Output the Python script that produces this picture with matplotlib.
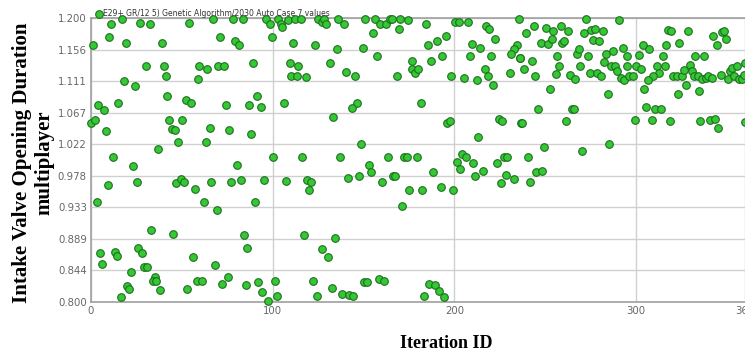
import numpy as np
import matplotlib
matplotlib.use("Agg")
import matplotlib.pyplot as plt

# (iteration, multiplier), left to right in strips
strip_1 = [(11.2, 1.192), (17.3, 1.199), (27.2, 1.193), (32.3, 1.192), (54.0, 1.193), (1.1, 1.162),
           (10.1, 1.173), (19.3, 1.165), (39.1, 1.165), (30.1, 1.133), (40.0, 1.133), (41.3, 1.118),
           (59.5, 1.133), (18.2, 1.111), (24.3, 1.104), (58.9, 1.114), (4.0, 1.078), (7.0, 1.071),
           (14.9, 1.080), (42.1, 1.090), (52.2, 1.084), (55.1, 1.080), (0.2, 1.052), (2.2, 1.057),
           (8.3, 1.041), (43.2, 1.057), (50.3, 1.057), (44.4, 1.043), (46.1, 1.042), (47.9, 1.025),
           (37.1, 1.015), (11.9, 1.004), (23.0, 0.992), (9.4, 0.965), (25.3, 0.969), (47.0, 0.968),
           (49.4, 0.973), (51.4, 0.969), (57.3, 0.959), (3.1, 0.941), (33.1, 0.901), (45.2, 0.896),
           (5.1, 0.869), (13.0, 0.870), (14.3, 0.865), (26.1, 0.876), (28.1, 0.869), (56.4, 0.864),
           (5.9, 0.853), (29.0, 0.849), (31.0, 0.850), (22.0, 0.842), (20.0, 0.823), (21.1, 0.819),
           (35.1, 0.835), (34.3, 0.829), (36.0, 0.829), (38.0, 0.817), (16.4, 0.807), (53.1, 0.819),
           (58.2, 0.829)]

strip_2 = [(67.4, 1.199), (78.1, 1.199), (83.6, 1.198), (96.2, 1.199), (98.4, 1.192), (103.2, 1.199),
           (104.7, 1.192), (105.4, 1.188), (108.4, 1.197), (112.2, 1.199), (115.5, 1.199), (71.1, 1.173),
           (79.3, 1.167), (81.2, 1.162), (99.4, 1.173), (111.1, 1.165), (64.1, 1.128), (70.0, 1.133),
           (73.3, 1.133), (89.1, 1.137), (109.3, 1.137), (114.2, 1.133), (110.2, 1.118), (113.3, 1.118),
           (118.3, 1.117), (91.3, 1.090), (74.4, 1.077), (87.1, 1.077), (93.5, 1.074), (106.0, 1.080),
           (65.4, 1.045), (76.2, 1.042), (88.2, 1.037), (63.2, 1.025), (100.3, 1.004), (116.4, 1.004),
           (80.1, 0.993), (66.3, 0.969), (77.3, 0.969), (82.5, 0.972), (95.3, 0.972), (107.3, 0.971),
           (62.3, 0.941), (69.2, 0.929), (90.5, 0.941), (84.3, 0.894), (86.1, 0.876), (117.2, 0.895),
           (68.1, 0.852), (61.0, 0.829), (72.2, 0.825), (75.3, 0.835), (85.2, 0.824), (92.2, 0.828),
           (94.0, 0.814), (97.2, 0.802), (101.2, 0.829), (102.3, 0.808)]

strip_3 = [(125.1, 1.199), (126.9, 1.195), (128.2, 1.199), (129.1, 1.192), (136.1, 1.199), (139.2, 1.192),
           (151.1, 1.199), (156.3, 1.199), (159.2, 1.192), (162.2, 1.192), (164.6, 1.199), (165.5, 1.199),
           (170.2, 1.199), (174.5, 1.197), (155.2, 1.179), (169.3, 1.185), (123.4, 1.162), (135.2, 1.156),
           (149.5, 1.158), (157.6, 1.146), (131.5, 1.137), (140.3, 1.124), (145.1, 1.118), (168.2, 1.118),
           (176.9, 1.139), (176.5, 1.128), (146.2, 1.080), (143.4, 1.073), (133.3, 1.060), (148.6, 1.022),
           (137.2, 1.004), (163.3, 1.004), (172.3, 1.004), (173.7, 1.004), (153.3, 0.993), (154.3, 0.983),
           (119.0, 0.972), (121.2, 0.969), (120.1, 0.958), (141.4, 0.974), (147.3, 0.977), (160.3, 0.969),
           (166.0, 0.977), (167.3, 0.977), (175.2, 0.958), (171.0, 0.935), (134.3, 0.890), (127.3, 0.875),
           (130.2, 0.864), (122.1, 0.829), (124.3, 0.808), (132.4, 0.820), (138.1, 0.811), (142.2, 0.810),
           (144.4, 0.808), (150.4, 0.828), (152.2, 0.828), (158.3, 0.832), (161.2, 0.829)]

strip_4 = [(184.2, 1.192), (200.4, 1.195), (202.4, 1.195), (207.5, 1.194), (217.4, 1.189), (219.3, 1.184),
           (235.4, 1.199), (195.4, 1.175), (190.6, 1.168), (185.5, 1.162), (209.5, 1.163), (214.3, 1.158),
           (222.6, 1.170), (234.3, 1.162), (232.9, 1.156), (231.4, 1.149), (236.2, 1.143), (193.4, 1.146),
           (208.4, 1.146), (220.4, 1.146), (187.3, 1.139), (178.3, 1.122), (180.2, 1.128), (216.7, 1.128),
           (218.5, 1.119), (230.5, 1.123), (198.3, 1.118), (205.3, 1.115), (212.3, 1.113), (221.3, 1.106),
           (181.6, 1.080), (196.1, 1.052), (197.6, 1.055), (224.4, 1.058), (226.4, 1.055), (236.7, 1.052),
           (213.2, 1.032), (179.2, 1.004), (204.2, 1.008), (206.6, 1.004), (201.5, 0.997), (203.1, 0.988),
           (210.5, 0.996), (223.5, 0.996), (227.2, 1.004), (229.2, 1.004), (188.4, 0.983), (211.4, 0.977),
           (215.6, 0.984), (228.3, 0.979), (232.7, 0.973), (225.7, 0.968), (182.4, 0.958), (192.5, 0.962),
           (199.3, 0.958), (186.2, 0.826), (189.3, 0.824), (191.5, 0.816), (183.5, 0.808), (194.3, 0.807)]

strip_5 = [(272.6, 1.199), (290.8, 1.197), (243.6, 1.189), (239.7, 1.179), (250.5, 1.186), (254.4, 1.182),
           (258.6, 1.189), (262.5, 1.182), (247.6, 1.165), (251.6, 1.164), (253.5, 1.171), (259.5, 1.165),
           (260.6, 1.168), (271.5, 1.179), (275.5, 1.183), (277.5, 1.185), (281.8, 1.182), (276.6, 1.169),
           (279.4, 1.168), (292.6, 1.158), (236.4, 1.143), (242.5, 1.140), (238.4, 1.128), (244.5, 1.118),
           (256.6, 1.146), (257.5, 1.133), (255.7, 1.121), (263.6, 1.120), (266.5, 1.114), (267.6, 1.149),
           (268.5, 1.156), (273.7, 1.147), (269.3, 1.132), (274.6, 1.122), (278.3, 1.122), (281.0, 1.119),
           (282.5, 1.138), (283.6, 1.150), (287.5, 1.153), (286.5, 1.133), (288.7, 1.133), (289.8, 1.125),
           (291.5, 1.115), (293.3, 1.113), (294.8, 1.146), (294.8, 1.133), (252.4, 1.100), (284.5, 1.093),
           (246.3, 1.072), (264.9, 1.072), (265.8, 1.072), (237.5, 1.052), (261.4, 1.055), (249.6, 1.019),
           (270.4, 1.013), (285.4, 1.022), (240.6, 1.004), (245.2, 0.983), (248.5, 0.984), (241.5, 0.969)]

strip_6 = [(296.2, 1.118), (298.2, 1.118), (317.5, 1.183), (319.4, 1.182), (328.4, 1.182), (342.3, 1.175),
           (347.5, 1.180), (348.6, 1.182), (349.7, 1.170), (303.6, 1.162), (307.4, 1.156), (316.4, 1.162),
           (323.6, 1.165), (344.5, 1.162), (301.4, 1.148), (314.6, 1.146), (332.4, 1.147), (337.4, 1.147),
           (359.8, 1.137), (300.1, 1.133), (302.6, 1.128), (311.5, 1.133), (315.7, 1.132), (312.4, 1.122),
           (309.6, 1.118), (306.7, 1.113), (320.6, 1.118), (322.5, 1.118), (325.2, 1.118), (326.5, 1.127),
           (329.8, 1.134), (330.7, 1.125), (331.7, 1.118), (333.9, 1.119), (336.4, 1.114), (338.3, 1.115),
           (339.7, 1.118), (341.8, 1.115), (346.7, 1.120), (350.4, 1.114), (351.9, 1.125), (352.8, 1.129),
           (354.1, 1.118), (355.5, 1.133), (356.5, 1.114), (358.3, 1.114), (359.2, 1.120), (327.6, 1.105),
           (322.9, 1.093), (334.8, 1.097), (304.5, 1.100), (305.6, 1.075), (310.5, 1.072), (313.9, 1.072),
           (299.7, 1.057), (308.7, 1.057), (318.6, 1.055), (335.5, 1.055), (340.9, 1.056), (343.4, 1.058),
           (345.4, 1.045), (359.9, 1.053)]

y_ticks = [0.800, 0.844, 0.889, 0.933, 0.978, 1.022, 1.067, 1.111, 1.156, 1.200]
x_ticks = [0, 100, 200, 300, 360]
series_name = "E29+ GR/12 5) Genetic Algorithm/2030 Auto Case 7 values"

pts = np.array(strip_1 + strip_2 + strip_3 + strip_4 + strip_5 + strip_6)

fig = plt.figure(figsize=(7.45, 3.54), dpi=100)
ax = fig.add_axes([91 / 745, 52 / 354, 654 / 745, 284 / 354])

sc = ax.scatter(pts[:, 0], pts[:, 1], s=30, c="#35c835", edgecolors="#1d6e1d",
                linewidths=0.8, clip_on=False, zorder=3, label=series_name)

ax.set_xlim(0, 360)
ax.set_ylim(0.8, 1.2)
ax.set_yticks(np.linspace(0.8, 1.2, 10))
ax.set_yticklabels(["%.3f" % v for v in y_ticks])
ax.set_xticks(x_ticks)
ax.set_xticklabels([str(v) for v in x_ticks])

for lab in ax.get_xticklabels() + ax.get_yticklabels():
    lab.set_family(["Liberation Sans Narrow", "DejaVu Sans"])
    lab.set_fontsize(7.3)
    lab.set_color("#666666")
ax.tick_params(length=0, pad=3)

ax.grid(True, color="#d0d0d0", linewidth=1.0, zorder=0)
ax.set_axisbelow(True)
for side in ["left", "bottom", "top"]:
    ax.spines[side].set_color("#a0a0a0")
    ax.spines[side].set_linewidth(1.2)
ax.spines["right"].set_visible(False)

fig.text(33 / 745, 1 - 163 / 354, "Intake Valve Opening Duration\nmultiplayer",
         rotation=90, ha="center", va="center", multialignment="center",
         family="Liberation Serif", weight="bold", fontsize=15, linespacing=1.15)
fig.text(446 / 745, 1 - 343 / 354, "Iteration ID", ha="center", va="center",
         family="Liberation Serif", weight="bold", fontsize=13)

fig.legend(handles=[sc], loc="upper left", bbox_to_anchor=(92 / 745, 1 - 5 / 354),
           frameon=False, fontsize=5.5, handletextpad=0.2, borderpad=0,
           handlelength=0.8, labelcolor="#333333")

fig.savefig("out.png", dpi=100)
